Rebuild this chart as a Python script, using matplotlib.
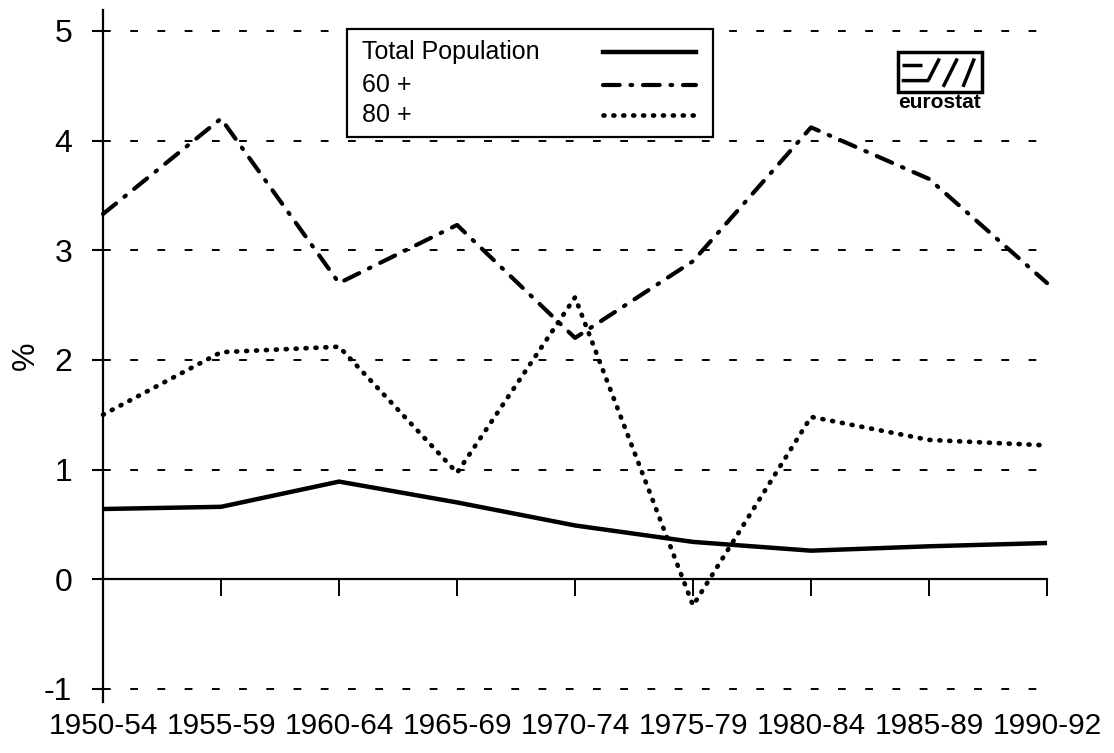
import matplotlib.pyplot as plt
from matplotlib.patches import Rectangle

# periods and annual growth rates (%)
periods = ['1950-54', '1955-59', '1960-64', '1965-69', '1970-74',
           '1975-79', '1980-84', '1985-89', '1990-92']
total_pop = [0.64, 0.66, 0.89, 0.70, 0.49, 0.34, 0.26, 0.30, 0.33]
age_60 = [3.33, 4.20, 2.70, 3.23, 2.20, 2.90, 4.12, 3.65, 2.70]
age_80 = [1.50, 2.07, 2.12, 0.97, 2.57, -0.24, 1.48, 1.27, 1.22]
yticks = [-1, 0, 1, 2, 3, 4, 5]

plt.rcParams['font.family'] = ['Liberation Sans', 'DejaVu Sans']

fig = plt.figure(figsize=(11.14, 7.53), dpi=100)
ax = fig.add_axes([0.0925, 0.0677, 0.8474, 0.9190])

x = list(range(len(periods)))
style = dict(color='black', clip_on=False, zorder=3)
ax.plot(x, total_pop, lw=3.2, solid_capstyle='butt', **style)
ax.plot(x, age_60, lw=3.0, linestyle=(0, (4, 2.6, 0.4, 2.6)),
        dash_capstyle='round', **style)
ax.plot(x, age_80, lw=3.4, linestyle=(0, (0.2, 1.9)),
        dash_capstyle='round', **style)

ax.set_xlim(0, len(periods) - 1)
ax.set_ylim(-1.12, 5.19)

ax.set_yticks(yticks)
ax.set_yticklabels([str(v) for v in yticks])
ax.tick_params(axis='y', direction='out', length=8, width=1.5, pad=14, labelsize=23)
ax.yaxis.grid(True, color='black', lw=1.4, linestyle=(0, (4, 10)))
ax.set_axisbelow(True)
ax.set_ylabel('%', fontsize=23, labelpad=2)

ax.set_xticks(x)
ax.set_xticklabels(periods)
ax.tick_params(axis='x', direction='out', length=12.5, width=1.4, pad=83, labelsize=21.5)

for side in ['top', 'right']:
    ax.spines[side].set_visible(False)
ax.spines['bottom'].set_position(('data', 0))
ax.spines['bottom'].set_linewidth(1.6)
ax.spines['left'].set_linewidth(1.6)
ax.spines['bottom'].set_zorder(4)

# legend box (labels left, line samples right)
tr = ax.transAxes
ax.add_patch(Rectangle((0.2585, 0.8165), 0.3877, 0.156, transform=tr,
                       facecolor='white', edgecolor='black', lw=1.6, zorder=5))
leg_items = [('Total Population', dict(lw=3.2, linestyle='-')),
             ('60 +', dict(lw=3.0, linestyle=(0, (4, 2.6, 0.4, 2.6)), dash_capstyle='round')),
             ('80 +', dict(lw=3.4, linestyle=(0, (0.2, 1.9)), dash_capstyle='round'))]
for (label, kw), yy in zip(leg_items, [0.9393, 0.8916, 0.8483]):
    ax.text(0.2744, yy, label, transform=tr, fontsize=18, va='center', ha='left', zorder=6)
    ax.plot([0.5297, 0.6282], [yy, yy], transform=tr, color='black', zorder=6, **kw)

# eurostat logo
ax.add_patch(Rectangle((0.842, 0.8815), 0.089, 0.0575, transform=tr,
                       facecolor='white', edgecolor='black', lw=2.5, zorder=5))
lk = dict(transform=tr, color='black', lw=2.5, zorder=6, solid_capstyle='butt')
ax.plot([0.846, 0.868], [0.921, 0.921], **lk)
ax.plot([0.846, 0.874, 0.886], [0.898, 0.898, 0.930], **lk)
ax.plot([0.890, 0.905], [0.889, 0.930], **lk)
ax.plot([0.911, 0.923], [0.889, 0.930], **lk)
ax.text(0.8865, 0.866, 'eurostat', transform=tr, fontsize=15, fontweight='bold',
        ha='center', va='center', zorder=6)

fig.savefig('out.png', dpi=100)
